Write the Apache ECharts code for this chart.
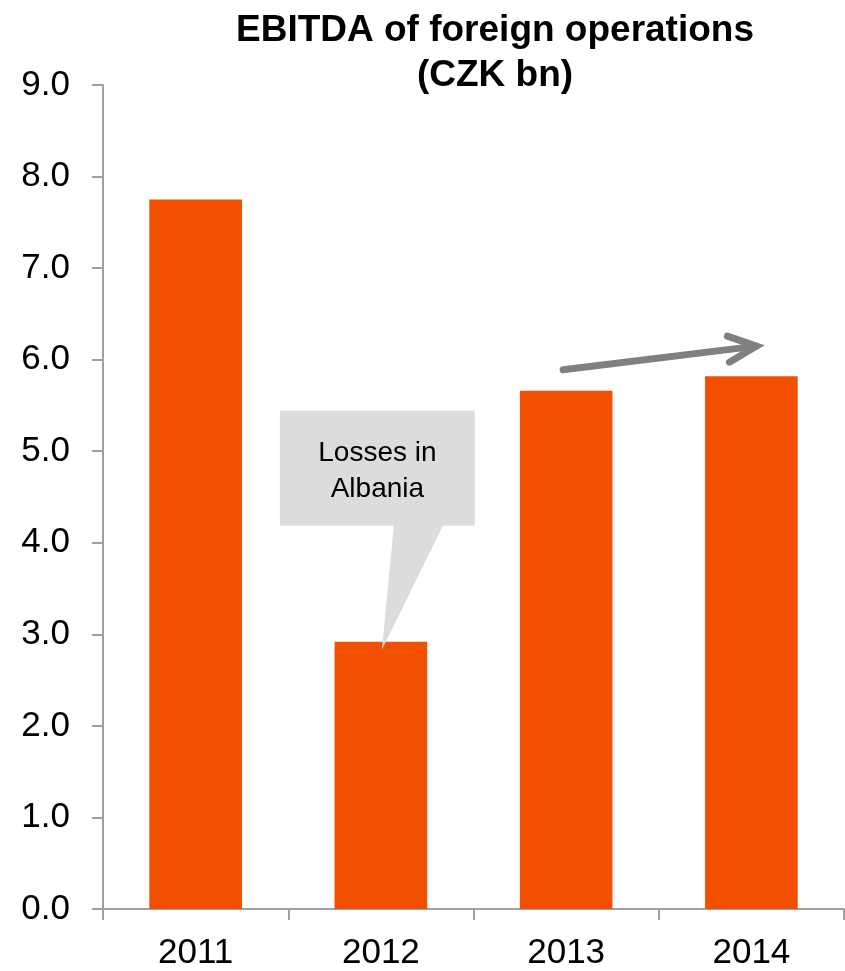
<!DOCTYPE html>
<html>
<head>
<meta charset="utf-8">
<script src="https://cdn.jsdelivr.net/npm/echarts@6/dist/echarts.min.js"></script>
<style>
  html, body { margin: 0; padding: 0; background: #fff; }
  #chart { width: 845px; height: 971px; }
</style>
</head>
<body>
<div id="chart"></div>
<script>
// EBITDA of foreign operations, CZK bn
const years = ['2011', '2012', '2013', '2014'];
const ebitda = [7.75, 2.92, 5.66, 5.82];
const yTicks = { min: 0, max: 9, step: 1 };
const calloutLines = ['Losses in', 'Albania'];

const FONT = '"Liberation Sans", Arial, sans-serif';
const AXIS_GREY = '#a0a0a0';

const chart = echarts.init(document.getElementById('chart'), null, { renderer: 'canvas' });

chart.setOption({
  animation: false,
  backgroundColor: '#ffffff',
  title: {
    text: 'EBITDA of foreign operations\n(CZK bn)',
    left: 490,
    top: 3,
    textAlign: 'center',
    textStyle: {
      fontFamily: FONT,
      fontWeight: 'bold',
      fontSize: 37,
      lineHeight: 45,
      color: '#000'
    }
  },
  grid: { left: 103, right: 1, top: 85, bottom: 59, containLabel: false },
  xAxis: {
    type: 'category',
    data: years,
    boundaryGap: true,
    axisLine: { show: true, lineStyle: { color: AXIS_GREY, width: 2 } },
    axisTick: { show: true, length: 11, alignWithLabel: false, lineStyle: { color: AXIS_GREY, width: 2 } },
    axisLabel: { fontFamily: FONT, fontSize: 35, color: '#000', margin: 27 },
    splitLine: { show: false }
  },
  yAxis: {
    type: 'value',
    min: yTicks.min,
    max: yTicks.max,
    interval: yTicks.step,
    axisLine: { show: true, lineStyle: { color: AXIS_GREY, width: 2 } },
    axisTick: { show: true, length: 11, lineStyle: { color: AXIS_GREY, width: 2 } },
    axisLabel: {
      fontFamily: FONT, fontSize: 35, color: '#000', margin: 33,
      formatter: v => v.toFixed(1)
    },
    splitLine: { show: false }
  },
  series: [{
    type: 'bar',
    data: ebitda,
    barWidth: '50%',
    itemStyle: { color: '#f24f00' },
    z: 2
  }]
});

// Annotations anchored to the bars through the chart's own coordinate system
function drawAnnotations() {
  const tip = chart.convertToPixel({ gridIndex: 0 }, [years[1], ebitda[1]]);
  const a0 = chart.convertToPixel({ gridIndex: 0 }, [years[2], ebitda[2]]);
  const a1 = chart.convertToPixel({ gridIndex: 0 }, [years[3], ebitda[3]]);

  const tx = tip[0] + 1, ty = tip[1] + 8;
  const boxL = tx - 102, boxR = tx + 93, boxT = ty - 239, boxB = ty - 124;

  const start = [a0[0] - 3, a0[1] - 21];
  const end = [a1[0] + 5, a1[1] - 30];

  chart.setOption({
    graphic: [
      {
        type: 'polygon',
        z: 10,
        shape: {
          points: [
            [boxL, boxT], [boxR, boxT], [boxR, boxB],
            [tx + 61, boxB], [tx, ty], [tx + 12, boxB],
            [boxL, boxB]
          ]
        },
        style: { fill: '#dcdcdc' }
      },
      {
        type: 'text',
        z: 11,
        x: (boxL + boxR) / 2,
        y: boxT + 25,
        style: {
          text: calloutLines.join('\n'),
          font: '28px ' + FONT,
          fill: '#000',
          align: 'center',
          verticalAlign: 'top',
          lineHeight: 36
        }
      },
      {
        type: 'polyline',
        z: 12,
        shape: { points: [start, end] },
        style: { stroke: '#808080', lineWidth: 7, lineCap: 'round', fill: null }
      },
      {
        type: 'polyline',
        z: 12,
        shape: { points: [[end[0] - 29, end[1] - 10], end, [end[0] - 27, end[1] + 16]] },
        style: { stroke: '#808080', lineWidth: 7, lineCap: 'round', lineJoin: 'miter', fill: null }
      }
    ]
  });
}
drawAnnotations();
</script>
</body>
</html>
